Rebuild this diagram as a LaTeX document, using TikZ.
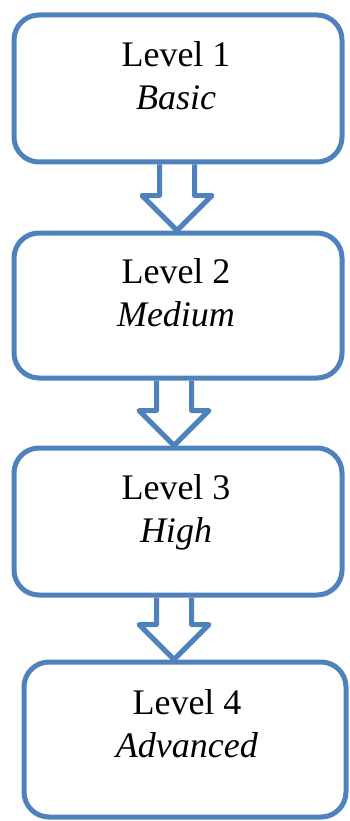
\documentclass[tikz,border=0pt]{standalone}
\usepackage{fontspec}
\setmainfont{Liberation Serif}
\usetikzlibrary{calc}
\definecolor{levelblue}{RGB}{79,129,189}
\newcommand{\levelarrow}[3]{%
\draw[blockarrow] (#3-17.5,0 |- #1.south) -- ($(#3-17.5,0 |- #2.north)+(0,35)$) -- ($(#3-35,0 |- #2.north)+(0,35)$) -- (#3,0 |- #2.north) -- ($(#3+35,0 |- #2.north)+(0,35)$) -- ($(#3+17.5,0 |- #2.north)+(0,35)$) -- (#3+17.5,0 |- #1.south);}
\begin{document}
\begin{tikzpicture}[x=1pt,y=1pt,
  levelbox/.style={draw=levelblue,line width=5pt,rounded corners=25pt,inner sep=0pt,minimum width=328pt},
  leveltext/.style={anchor=base,align=center,inner sep=0pt,font=\fontsize{36}{43}\selectfont},
  blockarrow/.style={draw=levelblue,line width=5pt,line join=round}]
\useasboundingbox (0,0) rectangle (349,-821);
\node[levelbox,minimum height=147pt] (b1) at (178,-88.5) {};
\node[levelbox,minimum height=145pt] (b2) at (178,-305.5) {};
\node[levelbox,minimum height=147pt] (b3) at (178,-521.5) {};
\node[levelbox,minimum height=155pt,minimum width=322pt] (b4) at (185,-739.5) {};
% text is set on the baseline of its second line
\node[leveltext] (t1) at (176,-110) {Level 1\\\textit{Basic}};
\node[leveltext] (t2) at (176,-326) {Level 2\\\textit{Medium}};
\node[leveltext] (t3) at (176,-542) {Level 3\\\textit{High}};
\node[leveltext] (t4) at (187,-757) {Level 4\\\textit{Advanced}};
\levelarrow{b1}{b2}{177}
\levelarrow{b2}{b3}{174}
\levelarrow{b3}{b4}{174}
\end{tikzpicture}
\end{document}
